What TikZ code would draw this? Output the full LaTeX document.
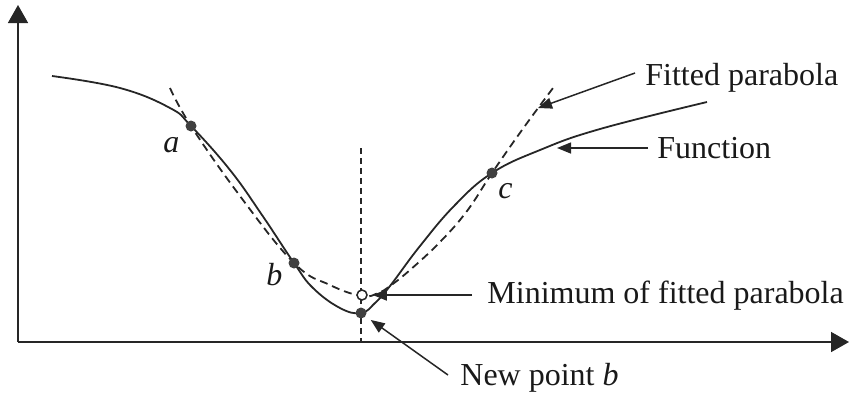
\documentclass[tikz,border=0pt]{standalone}
\usepackage{fontspec}
\setmainfont{Liberation Serif}
\usetikzlibrary{arrows.meta}
\begin{document}
\begin{tikzpicture}[x=0.5pt,y=-0.5pt,
  font=\fontsize{16}{19}\selectfont,
  curve/.style={line width=0.9pt, draw=black!85},
  fitcurve/.style={line width=0.9pt, draw=black!85, dash pattern=on 4pt off 2.5pt},
  vline/.style={line width=0.7pt, draw=black!85, dash pattern=on 3pt off 2pt},
  axis/.style={line width=0.8pt, draw=black!85, -{Triangle[length=9pt,width=10pt]}},
  conn/.style={line width=0.75pt, draw=black!85, -{Triangle[length=7pt,width=5.5pt]}},
  dot/.style={circle, fill=black!75, inner sep=0pt, minimum size=5.5pt},
  odot/.style={circle, draw=black!85, fill=white, line width=0.75pt, inner sep=0pt, minimum size=5pt},
  lbl/.style={anchor=base west, inner sep=0pt, text=black!90}]
\useasboundingbox (0,0) rectangle (850,398);

% axes
\coordinate (O) at (18,342);
\coordinate (Y) at (18,5);
\coordinate (X) at (849,342);
\draw[axis] (O) -- (Y);
\draw[axis] (O) -- (X);

% vertical dashed line
\coordinate (vtop) at (361,148);
\coordinate (vbot) at (361,342);
\draw[vline] (vtop) -- (vbot);

% function
\draw[curve] plot[smooth, tension=0.7] coordinates {
  (52,76) (120,88) (170,108) (191,126) (230,170) (262,215) (294,263)
  (313,288) (340,308) (361,313) (375,303) (390,286) (420,246)
  (455,205) (492,173) (540,150) (600,129) (707,102)};

% fitted parabola
\draw[fitcurve] plot[smooth, tension=0.7] coordinates {
  (170,88) (191,126) (240,196) (294,263) (330,285) (362,296)
  (378,293) (390,286) (410,270) (440,242) (467,211) (492,173)
  (522,130) (553,88)};

% points
\node[dot] (a) at (191,126) {};
\node[dot] (b) at (294,263) {};
\node[dot] (c) at (492,173) {};
\node[dot] (newb) at (361,313) {};
\node[odot] (minp) at (362,295) {};

% point labels
\node[lbl] (la) at (163,152) {\textit{a}};
\node[lbl] (lb) at (266,285) {\textit{b}};
\node[lbl] (lc) at (498,198) {\textit{c}};

% texts
\node[lbl] (fp) at (645,85) {Fitted parabola};
\node[lbl] (fn) at (657,158) {Function};
\node[lbl] (mn) at (487,303) {Minimum of fitted parabola};
\node[lbl] (np) at (460,385) {New point \textit{b}};

% connectors
\coordinate (fpT) at (635,73);
\coordinate (fpH) at (538,108);
\draw[conn] (fpT) -- (fpH);
\coordinate (fnT) at (648,148);
\coordinate (fnH) at (557,148);
\draw[conn] (fnT) -- (fnH);
\coordinate (mnT) at (472,295);
\draw[conn, shorten >=2.5pt] (mnT) -- (minp);
\coordinate (npT) at (448,375);
\draw[conn, shorten >=3pt] (npT) -- (newb);
\end{tikzpicture}
\end{document}
